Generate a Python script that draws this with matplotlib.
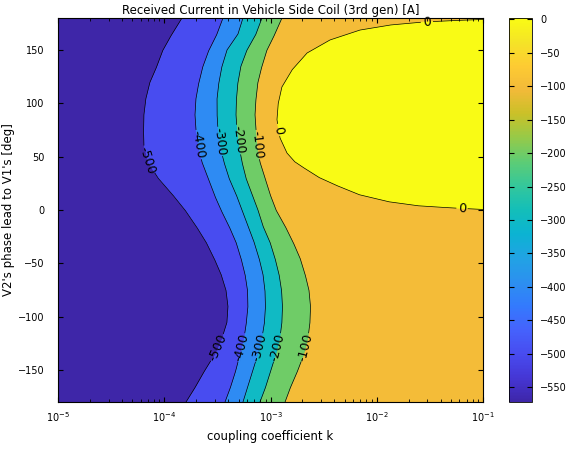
import numpy as np
import matplotlib
matplotlib.use('Agg')
import matplotlib.pyplot as plt
from matplotlib.colors import LinearSegmentedColormap, Normalize
from matplotlib.cm import ScalarMappable

# ---- data ----
# phase rows (deg), top to bottom
phase_deg = [180, 165, 150, 135, 120, 105, 90, 75, 60, 45, 30, 15, 0,
             -15, -30, -45, -60, -75, -90, -105, -120, -135, -150, -165, -180]

# log10(k) where each contour level crosses the phase row
logk_m500 = [-3.833, -3.927, -4.012, -4.068, -4.134, -4.172, -4.191, -4.195, -4.191,
             -4.153, -4.059, -3.927, -3.805, -3.701, -3.607, -3.532, -3.466, -3.419,
             -3.400, -3.409, -3.456, -3.522, -3.616, -3.701, -3.795]
logk_m400 = [-3.447, -3.503, -3.579, -3.635, -3.673, -3.701, -3.711, -3.701, -3.682,
             -3.645, -3.588, -3.532, -3.466, -3.391, -3.325, -3.278, -3.240, -3.216,
             -3.212, -3.226, -3.249, -3.287, -3.325, -3.372, -3.428]
logk_m300 = [-3.259, -3.306, -3.409, -3.456, -3.485, -3.503, -3.503, -3.494, -3.475,
             -3.438, -3.391, -3.325, -3.268, -3.212, -3.155, -3.108, -3.071, -3.052,
             -3.047, -3.056, -3.080, -3.118, -3.165, -3.212, -3.259]
logk_m200 = [-3.080, -3.136, -3.221, -3.278, -3.306, -3.320, -3.325, -3.315, -3.296,
             -3.268, -3.231, -3.174, -3.118, -3.071, -3.005, -2.958, -2.920, -2.896,
             -2.887, -2.892, -2.911, -2.948, -2.995, -3.042, -3.099]
logk_m100 = [-2.892, -2.958, -3.033, -3.080, -3.118, -3.136, -3.146, -3.136, -3.127,
             -3.099, -3.052, -3.005, -2.948, -2.863, -2.788, -2.722, -2.675, -2.638,
             -2.623, -2.628, -2.647, -2.685, -2.741, -2.807, -2.863]

# the 0 A contour (closes against the right edge)
zero_k = [0.1, 0.0522, 0.0369, 0.0255, 0.0133, 6.95e-3, 4.51e-3, 2.92e-3, 2.21e-3,
          1.70e-3, 1.43e-3, 1.23e-3, 1.15e-3, 1.18e-3, 1.28e-3, 1.59e-3, 2.21e-3,
          3.63e-3, 6.95e-3, 0.0133, 0.0272, 0.0544, 0.1]
zero_phase = [0.5, 1.9, 2.8, 3.75, 7.5, 14.1, 21.6, 30, 37.5, 45, 53.4, 67.5, 84.4,
              99.4, 115.3, 131.2, 147.2, 159.4, 168.7, 173.4, 176.2, 177.7, 178.6]

levels = [-500, -400, -300, -200, -100, 0]
zmin, zmax = -572, 2

# parula-like colormap
parula_pts = [(0.2422, 0.1504, 0.6603), (0.2704, 0.2138, 0.8346), (0.2813, 0.2985, 0.9397),
              (0.2710, 0.3860, 0.9898), (0.2006, 0.4803, 0.9906), (0.1716, 0.5655, 0.9393),
              (0.1288, 0.6408, 0.8910), (0.0433, 0.7039, 0.8242), (0.0770, 0.7468, 0.7224),
              (0.2061, 0.7808, 0.6065), (0.3671, 0.8021, 0.4563), (0.5886, 0.7913, 0.2833),
              (0.7945, 0.7554, 0.1570), (0.9523, 0.7284, 0.2237), (0.9938, 0.7974, 0.1974),
              (0.9601, 0.8963, 0.1507), (0.9769, 0.9839, 0.0805)]
pos = [0, 16, 32, 48, 64, 80, 96, 112, 128, 144, 160, 176, 192, 208, 224, 240, 255]
parula = LinearSegmentedColormap.from_list('parula', [(p / 255, c) for p, c in zip(pos, parula_pts)])
norm = Normalize(zmin, zmax)

fig = plt.figure(figsize=(5.75, 4.51), dpi=100)
ax = fig.add_axes([58 / 575, 49 / 451, 425 / 575, 384 / 451])
ax.set_xscale('log')
ax.set_xlim(1e-5, 1e-1)
ax.set_ylim(-180, 180)

ph = np.array(phase_deg, dtype=float)
logc = [np.array(c) for c in (logk_m500, logk_m400, logk_m300, logk_m200, logk_m100)]
contours = [10 ** c for c in logc]

# filled bands, left to right
edges = [np.full(len(ph), 1e-5)] + contours + [np.full(len(ph), 0.1)]
band_vals = [zmin] + levels[:-1]
for i in range(len(edges) - 1):
    col = parula(norm(band_vals[i]))
    ax.fill_betweenx(ph, edges[i], edges[i + 1], color=col, lw=0.4, ec=col)

ycol = parula(norm(0))
ax.fill(zero_k, zero_phase, color=ycol, lw=0.4, ec=ycol)


def densify(lk, pp, n=40):
    L, P = [], []
    for i in range(len(lk) - 1):
        t = np.linspace(0, 1, n, endpoint=False)
        L.append(lk[i] + (lk[i + 1] - lk[i]) * t)
        P.append(pp[i] + (pp[i + 1] - pp[i]) * t)
    L.append([lk[-1]])
    P.append([pp[-1]])
    return np.concatenate(L), np.concatenate(P)


def draw_contour(lk, pp, labels):
    # labels: list of (where, text, halfwidth_px); where = ('p', phase) or ('k', log10 k)
    L, P = densify(np.asarray(lk, float), np.asarray(pp, float))
    xy = ax.transData.transform(np.c_[10 ** L, P])
    keep = np.ones(len(L), bool)
    for (kind, val), text, r in labels:
        if kind == 'p':
            j = np.argmin(np.abs(P - val))
        else:
            j = np.argmin(np.abs(L - val) + (P < 90) * 10 * (val < -1.4) + (P > 90) * 10 * (val >= -1.4))
        c = xy[j]
        j0, j1 = max(j - 8, 0), min(j + 8, len(L) - 1)
        d = xy[j1] - xy[j0]
        ang = np.degrees(np.arctan2(d[1], d[0]))
        if ang > 90:
            ang -= 180
        if ang < -90:
            ang += 180
        keep &= np.hypot(xy[:, 0] - c[0], xy[:, 1] - c[1]) > r
        ax.text(10 ** L[j], P[j], text, rotation=ang, rotation_mode='anchor',
                ha='center', va='center', fontsize=9)
    x = np.where(keep, 10 ** L, np.nan)
    ax.plot(x, P, color='k', lw=0.5)


upper = [47, 61, 64, 66, 61]
for c, lev, pa in zip(logc, levels[:-1], upper):
    draw_contour(c, ph, [(('p', pa), str(lev), 15), (('p', -129), str(lev), 15)])

zl = np.log10(zero_k)
draw_contour(zl, zero_phase, [(('p', 75), '0', 6), (('k', -1.198), '0', 6),
                              (('k', -1.527), '0', 6)])

ax.set_yticks(np.arange(-150, 151, 50))
ax.tick_params(which='both', direction='in', top=True, right=True, labelsize=7)
ax.tick_params(axis='y', pad=10)
ax.tick_params(axis='x', pad=6)
ax.set_xlabel('coupling coefficient k', fontsize=8.5)
ax.set_ylabel("V2's phase lead to V1's [deg]", fontsize=8.5, labelpad=2)
ax.set_title('Received Current in Vehicle Side Coil (3rd gen) [A]', fontsize=8.5, pad=3)

# colorbar
cax = fig.add_axes([509 / 575, 49 / 451, 23 / 575, 384 / 451])
cb = fig.colorbar(ScalarMappable(norm=norm, cmap=parula), cax=cax)
cb.set_ticks(np.arange(-550, 1, 50))
cax.tick_params(direction='in', left=True, right=True, labelsize=7, pad=6)
cb.outline.set_linewidth(0.6)

fig.savefig('out.png', dpi=100)
